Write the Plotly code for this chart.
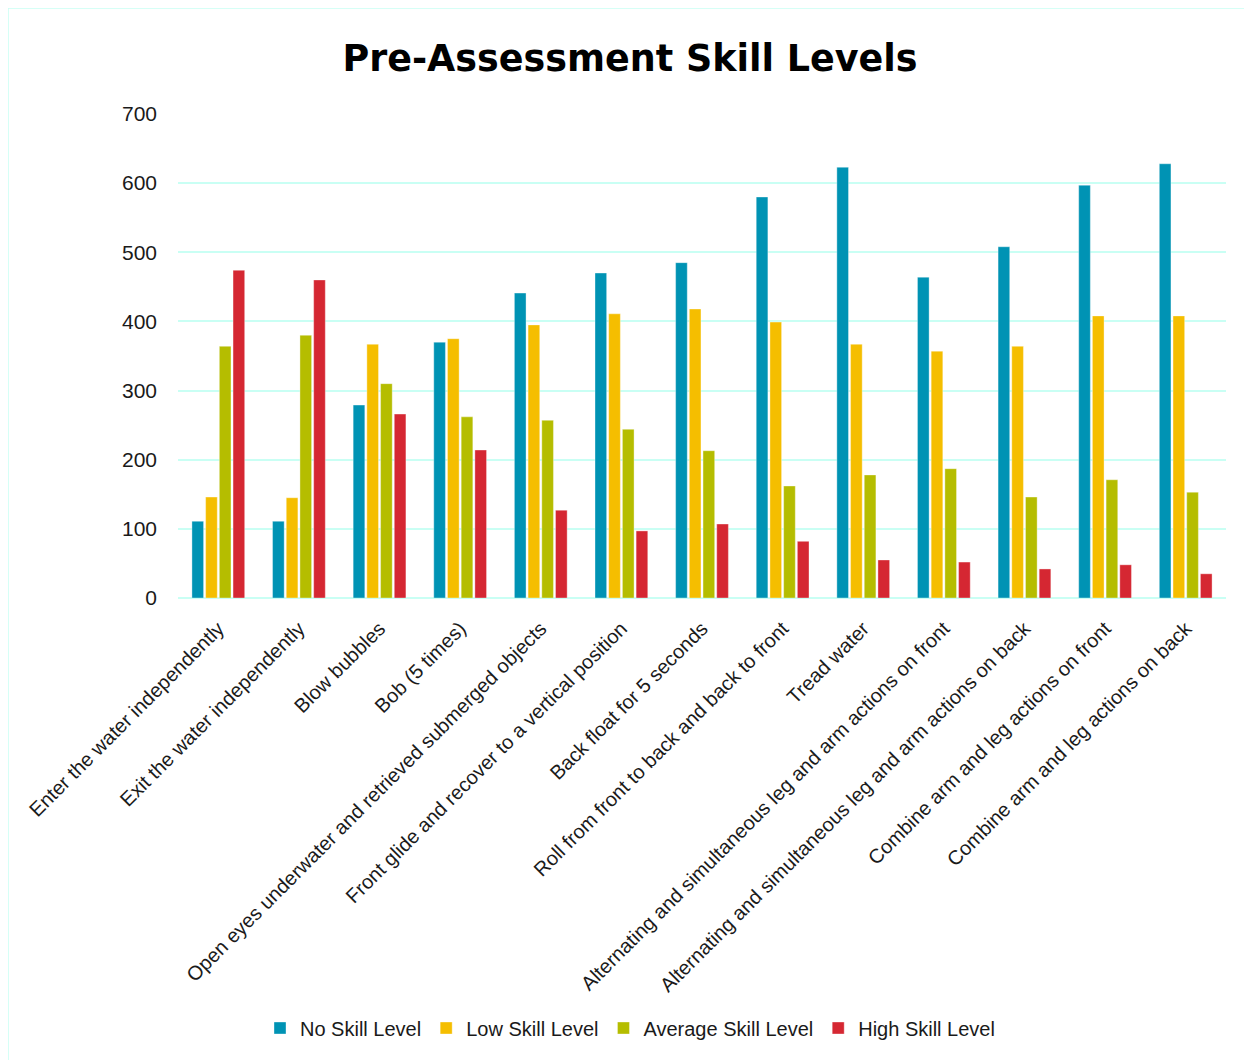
import plotly.graph_objects as go

# skill categories (x axis)
skills = [
    "Enter the water independently",
    "Exit the water independently",
    "Blow bubbles",
    "Bob (5 times)",
    "Open eyes underwater and retrieved submerged objects",
    "Front glide and recover to a vertical position",
    "Back float for 5 seconds",
    "Roll from front to back and back to front",
    "Tread water",
    "Alternating and simultaneous leg and arm actions on front",
    "Alternating and simultaneous leg and arm actions on back",
    "Combine arm and leg actions on front",
    "Combine arm and leg actions on back",
]

no_skill = [111, 111, 279, 370, 441, 470, 485, 580, 623, 464, 508, 597, 628]
low_skill = [146, 145, 367, 375, 395, 411, 418, 399, 367, 357, 364, 408, 408]
average_skill = [364, 380, 310, 262, 257, 244, 213, 162, 178, 187, 146, 171, 153]
high_skill = [474, 460, 266, 214, 127, 97, 107, 82, 55, 52, 42, 48, 35]

series = [
    ("No Skill Level", no_skill, "#0093B4"),
    ("Low Skill Level", low_skill, "#F5BE00"),
    ("Average Skill Level", average_skill, "#B5BD00"),
    ("High Skill Level", high_skill, "#D52732"),
]

font_family = "Liberation Sans Narrow, Liberation Sans, Arial Narrow, sans-serif"
grid_color = "#C9FFF4"

fig = go.Figure()
for name, vals, color in series:
    fig.add_trace(
        go.Bar(
            x=skills,
            y=vals,
            name=name,
            marker=dict(color=color, line=dict(color="rgba(255,255,255,0.6)", width=0.6)),
        )
    )

# page has an 8px body margin, so the figure is drawn 8px in from the window edge
OFF = 8
W, H = 1252 - OFF, 1060 - OFF
left, right, top, bottom = 178 - OFF, 26, 114 - OFF, 462
pw, ph = W - left - right, H - top - bottom


def px_x(p):
    return (p - OFF - left) / pw


def px_y(p):
    return (H - bottom - (p - OFF)) / ph


fig.update_layout(
    width=W,
    height=H,
    margin=dict(l=left, r=right, t=top, b=bottom),
    paper_bgcolor="white",
    plot_bgcolor="white",
    barmode="group",
    bargap=0.32,
    bargroupgap=0.15,
    font=dict(family=font_family, size=20, color="#1a1a1a"),
    title=dict(
        text="<b>Pre-Assessment Skill Levels</b>",
        x=0.5,
        xanchor="center",
        y=1 - (58 - OFF) / H,
        yanchor="middle",
        font=dict(family="DejaVu Sans, Liberation Sans, sans-serif", size=36.5, color="black"),
    ),
    legend=dict(
        orientation="h",
        xref="container",
        yref="container",
        x=0.5,
        xanchor="center",
        y=1 - (1028 - OFF) / H,
        yanchor="middle",
        font=dict(family=font_family, size=20),
        itemwidth=30,
        traceorder="normal",
    ),
    showlegend=True,
)

fig.update_yaxes(
    range=[0, 700],
    dtick=100,
    showgrid=True,
    gridcolor=grid_color,
    gridwidth=1.5,
    zeroline=True,
    zerolinecolor=grid_color,
    zerolinewidth=2,
    showline=False,
    ticks="",
    ticklabelstandoff=20,
    tickfont=dict(size=21),
)
fig.update_xaxes(
    tickangle=-45,
    showgrid=False,
    showline=False,
    ticks="",
    ticklabelstandoff=14,
    tickfont=dict(size=20),
)

# light cyan border around the chart area
fig.add_shape(
    type="rect",
    xref="paper",
    yref="paper",
    x0=px_x(8),
    x1=px_x(1246),
    y0=px_y(1075),
    y1=px_y(8),
    line=dict(color="#C9FFF4", width=1.5),
    fillcolor="rgba(0,0,0,0)",
    layer="below",
)

fig.write_html("out.html")
